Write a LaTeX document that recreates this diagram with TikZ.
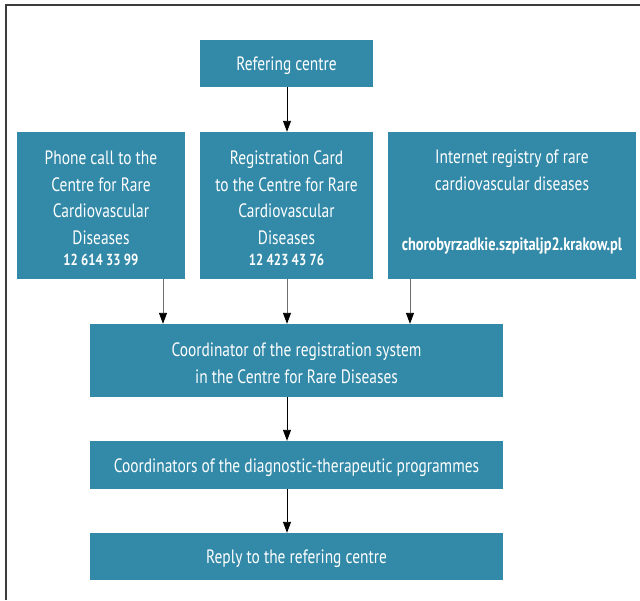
\documentclass[tikz,border=0pt]{standalone}
\usepackage{fontspec}
\setmainfont[FakeStretch=0.8]{PT Sans}
\usetikzlibrary{arrows.meta}
\definecolor{boxblue}{RGB}{50,137,168}
\definecolor{framegray}{RGB}{60,60,60}
\definecolor{linegray}{RGB}{110,110,110}
\newcommand\tstrut{\rule{0pt}{19pt}}
\tikzset{
  box/.style={fill=boxblue, text=white, align=center, inner sep=0pt,
    font=\fontsize{19.3}{26.7}\selectfont},
  arr/.style={draw=black, line width=0.9pt, -{Triangle[length=11pt,width=8pt,black]}},
  garr/.style={draw=linegray, line width=0.9pt, -{Triangle[length=11pt,width=8pt,black]}}
}
\begin{document}
\begin{tikzpicture}[x=1pt,y=-1pt]
\useasboundingbox (0,0) rectangle (640,600);
\fill[white] (0,0) rectangle (640,600);
\draw[framegray, line width=1.2pt] (6,600) -- (6,5) -- (640,5);

\node[box, minimum width=173pt, minimum height=47pt] (ref) at (286.5,63.5) {\tstrut Refering centre};
\node[box, minimum width=168pt, minimum height=147pt] (phone) at (101,205.5)
  {\tstrut Phone call to the\\Centre for Rare\\Cardiovascular\\Diseases\\[-6pt]{\fontsize{16}{20}\bfseries\selectfont 12 614 33 99}};
\node[box, minimum width=173pt, minimum height=147pt] (reg) at (286.5,205.5)
  {\tstrut Registration Card\\to the Centre for Rare\\Cardiovascular\\Diseases\\[-6pt]{\fontsize{16}{20}\bfseries\selectfont 12 423 43 76}};
\node[box, minimum width=248pt, minimum height=147pt] (inet) at (512,205.5)
  {\tstrut Internet registry of rare\\cardiovascular diseases\\[33pt]{\fontsize{18}{20}\bfseries\selectfont chorobyrzadkie.szpitaljp2.krakow.pl}\\[-11pt]\mbox{}};
\node[box, minimum width=413pt, minimum height=73pt] (coord) at (296.5,360.5)
  {\tstrut Coordinator of the registration system\\in the Centre for Rare Diseases};
\node[box, minimum width=413pt, minimum height=48pt] (diag) at (296.5,465)
  {\tstrut Coordinators of the diagnostic-therapeutic programmes};
\node[box, minimum width=413pt, minimum height=47pt] (reply) at (296.5,556.5)
  {\tstrut Reply to the refering centre};

\coordinate (a1) at (163,0);
\coordinate (a2) at (287,0);
\coordinate (a3) at (410,0);

\draw[arr] (ref.south -| a2) -- (reg.north -| a2);
\draw[garr] (phone.south -| a1) -- (coord.north -| a1);
\draw[garr] (reg.south -| a2) -- (coord.north -| a2);
\draw[garr] (inet.south -| a3) -- (coord.north -| a3);
\draw[arr] (coord.south -| a2) -- (diag.north -| a2);
\draw[arr] (diag.south -| a2) -- (reply.north -| a2);
\end{tikzpicture}
\end{document}
